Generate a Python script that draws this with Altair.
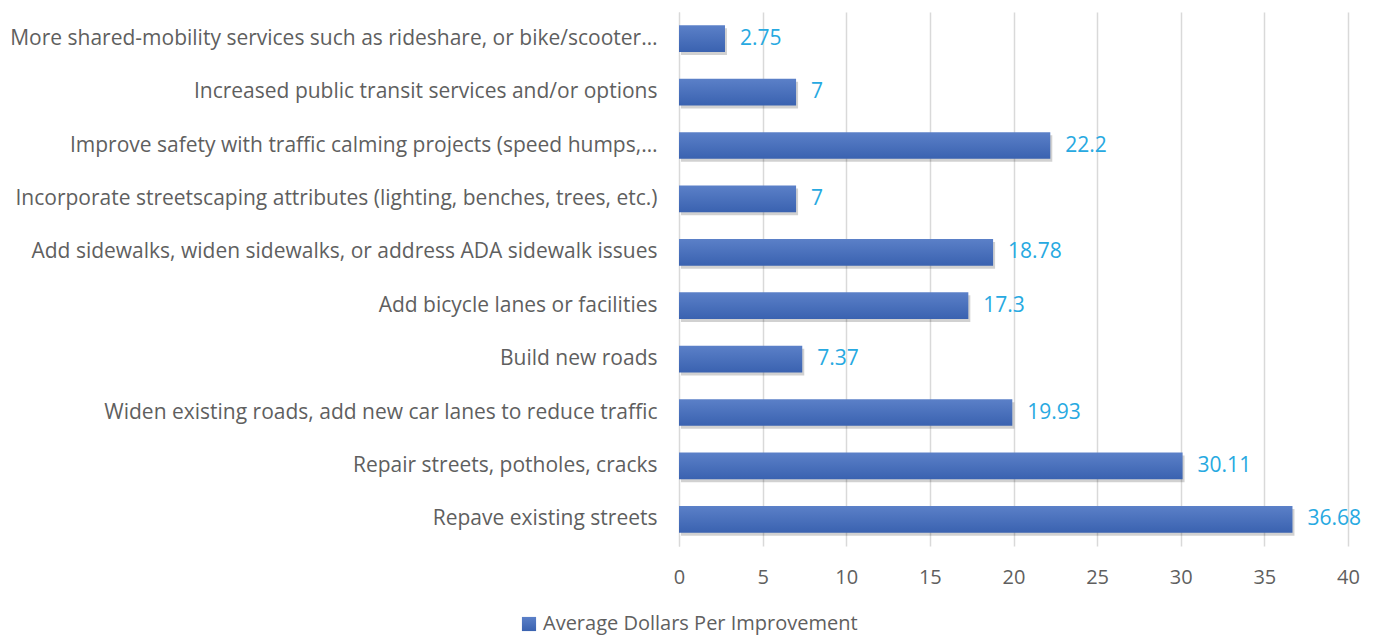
import altair as alt
import pandas as pd

categories = [
    "More shared-mobility services such as rideshare, or bike/scooter…",
    "Increased public transit services and/or options",
    "Improve safety with traffic calming projects (speed humps,…",
    "Incorporate streetscaping attributes (lighting, benches, trees, etc.)",
    "Add sidewalks, widen sidewalks, or address ADA sidewalk issues",
    "Add bicycle lanes or facilities",
    "Build new roads",
    "Widen existing roads, add new car lanes to reduce traffic",
    "Repair streets, potholes, cracks",
    "Repave existing streets",
]
values = [2.75, 7, 22.2, 7, 18.78, 17.3, 7.37, 19.93, 30.11, 36.68]
labels = ["2.75", "7", "22.2", "7", "18.78", "17.3", "7.37", "19.93", "30.11", "36.68"]
series_name = "Average Dollars Per Improvement"
x_ticks = [0, 5, 10, 15, 20, 25, 30, 35, 40]

df = pd.DataFrame({"cat": categories, "val": values, "lab": labels, "series": series_name})

FONT = "Open Sans"
GRAY = "#5f5f5f"

y_scale = alt.Scale(paddingInner=0.5, paddingOuter=0.25)
x_scale = alt.Scale(domain=[0, 40], nice=False)

y_enc = alt.Y("cat:N", sort=categories, scale=y_scale,
              axis=alt.Axis(title=None, ticks=False, domain=True, domainColor="#d9d9d9",
                            labelFont=FONT, labelFontSize=21, labelColor=GRAY,
                            labelPadding=22, labelLimit=700))
x_enc = alt.X("val:Q", scale=x_scale,
              axis=alt.Axis(title=None, values=x_ticks, ticks=False, domain=False,
                            grid=True, gridColor="#d9d9d9", gridWidth=1.5,
                            labelFont=FONT, labelFontSize=20, labelColor=GRAY,
                            labelFlush=False, labelPadding=21))

grad = alt.Gradient(gradient="linear",
                    stops=[alt.GradientStop(color="#5b80c8", offset=0),
                           alt.GradientStop(color="#3a62b0", offset=1)],
                    x1=0, x2=0, y1=0, y2=1)

base = alt.Chart(df)

shadow = base.mark_bar(color="#000000", opacity=0.18, xOffset=2, yOffset=3).encode(
    y=y_enc, x=x_enc,
)

bars = base.mark_bar(fill=grad).encode(
    y=y_enc, x=x_enc,
    opacity=alt.Opacity("series:N", scale=alt.Scale(range=[1]),
                        legend=alt.Legend(title=None, orient="none", legendX=-160, legendY=602,
                                          symbolType="square", symbolSize=200,
                                          symbolFillColor="#4069b8", symbolStrokeWidth=0,
                                          labelFont=FONT, labelFontSize=20, labelColor=GRAY,
                                          labelLimit=500, labelOffset=4)),
)

text = base.mark_text(align="left", dx=15, font=FONT, fontSize=21, color="#27a9e1").encode(
    y=y_enc, x=x_enc, text="lab:N"
)

chart = alt.layer(shadow, bars, text).properties(
    width=669, height=534,
    autosize=alt.AutoSizeParams(type="none"),
    padding={"left": 671, "top": 4, "right": 20, "bottom": 90},
).configure_view(stroke=None)

chart.save("out.html", embed_options={"renderer": "svg", "actions": False})
